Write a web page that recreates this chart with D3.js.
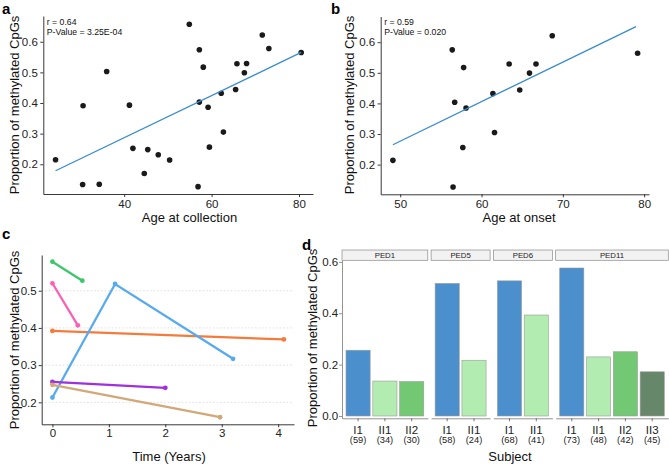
<!DOCTYPE html>
<html><head><meta charset="utf-8">
<script src="https://cdn.jsdelivr.net/npm/d3@7"></script>
<style>body{margin:0;background:#fff}svg{display:block;font-family:"Liberation Sans",Arial,sans-serif}</style>
</head><body><svg id="c" width="669" height="465"></svg>
<script>
// ---- Panel a data ----
const ageCollection = [54.9,57.2,58.1,36.0,71.6,73.1,80.5,65.8,68.0,67.5,65.5,62.2,57.2,59.2,30.6,41.2,24.3,30.5,34.3,42.0,45.4,47.8,44.6,50.4,62.7,59.5,56.9];
const methylA      = [0.657,0.574,0.517,0.503,0.622,0.578,0.565,0.528,0.529,0.499,0.444,0.432,0.403,0.386,0.391,0.393,0.215,0.134,0.135,0.252,0.248,0.231,0.170,0.214,0.305,0.256,0.127];
const fitAx = [24.3, 80.5], fitAy = [0.179, 0.565];
const statsA = ["r = 0.64", "P-Value = 3.25E-04"];
// ---- Panel b data ----
const ageOnset = [56.4,57.8,56.7,58.1,68.7,79.2,63.4,66.7,65.9,64.7,61.4,49.1,56.5,57.7,61.6];
const methylB  = [0.575,0.517,0.404,0.385,0.621,0.564,0.529,0.529,0.499,0.444,0.432,0.214,0.127,0.256,0.305];
const fitBx = [49.1, 79.0], fitBy = [0.265, 0.651];
const statsB = ["r = 0.59", "P-Value = 0.020"];
// ---- Panel c data ----
const seriesTimes  = [[0,0.53],[0,0.45],[0,4.1],[0,1.11,3.2],[0,2.0],[0,2.97]];
const seriesValues = [[0.578,0.527],[0.520,0.407],[0.392,0.369],[0.213,0.518,0.317],[0.255,0.239],[0.247,0.160]];
const yTicksC = [0.2,0.3,0.4,0.5], xTicksC = [0,1,2,3,4];
// ---- Panel d data ----
const families = ["PED1","PED5","PED6","PED11"];
const subjects = [["I1","II1","II2"],["I1","II1"],["I1","II1"],["I1","II1","II2","II3"]];
const ages     = [[59,34,30],[58,24],[68,41],[73,48,42,45]];
const props    = [[0.256,0.136,0.134],[0.516,0.217],[0.526,0.393],[0.576,0.230,0.250,0.172]];
const yTicksD = [0,0.2,0.4,0.6];

const svg = d3.select("#c");
const lineColors = ["#3ec66b","#fb60b4","#f47b3b","#56aaef","#a02fdc","#d3a878"];
const barColors = {"I1":"#4b8fcc","II1":"#b3ecb1","II2":"#73c873","II3":"#67876a"};
const tickCol = "#222";

function styleAxis(g, fs){
  g.selectAll("path.domain").attr("stroke","#222").attr("stroke-width",0.9);
  g.selectAll(".tick line").attr("stroke","#222").attr("stroke-width",0.9);
  g.selectAll(".tick text").attr("fill",tickCol).style("font-size",fs+"px").style("font-family","'Liberation Sans',Arial,sans-serif");
}
function panelLabel(t,x,y){ svg.append("text").attr("x",x).attr("y",y).text(t).style("font-weight","bold").style("font-size","15px").attr("fill","#000"); }
function yTitle(x,y){ svg.append("text").attr("transform",`translate(${x},${y}) rotate(-90)`).attr("text-anchor","middle").style("font-size","13px").attr("fill","#111").text("Proportion of methylated CpGs"); }
function xTitle(t,x,y){ svg.append("text").attr("x",x).attr("y",y).attr("text-anchor","middle").style("font-size","13px").attr("fill","#111").text(t); }

function scatter(opt){
  const x = d3.scaleLinear().domain(opt.xd).range([opt.x0,opt.x1]);
  const y = d3.scaleLinear().domain(opt.yd).range([opt.yb,opt.yt]);
  const gx = svg.append("g").attr("transform",`translate(0,${opt.yb})`).call(d3.axisBottom(x).tickValues(opt.xt).tickSize(3).tickSizeOuter(0).tickPadding(3));
  styleAxis(gx,11.5);
  const gy = svg.append("g").attr("transform",`translate(${opt.x0},0)`).call(d3.axisLeft(y).tickValues([0.2,0.3,0.4,0.5,0.6]).tickFormat(d3.format(".1f")).tickSize(3).tickSizeOuter(0).tickPadding(2.5));
  styleAxis(gy,11.5);
  svg.append("g").selectAll("circle").data(opt.xs).join("circle")
    .attr("cx",(d)=>x(d)).attr("cy",(d,i)=>y(opt.ys[i])).attr("r",2.8).attr("fill","#1a1a1a");
  svg.append("path").attr("d",d3.line()(opt.fx.map((d,i)=>[x(d),y(opt.fy[i])]))).attr("stroke","#3a8ccf").attr("stroke-width",1.3).attr("fill","none");
  opt.stats.forEach((s,i)=>svg.append("text").attr("x",opt.x0+3.5).attr("y",25+i*10).style("font-size","8.7px").attr("fill","#111").text(s));
}

// Panel a
scatter({x0:43.3,x1:313,yb:194,yt:16,xd:[21.5,83.2],yd:[0.103,0.684],xt:[40,60,80],xs:ageCollection,ys:methylA,fx:fitAx,fy:fitAy,stats:statsA});
panelLabel("a",2,13.5); yTitle(19,105); xTitle("Age at collection",189.5,221.5);
// Panel b
scatter({x0:380.7,x1:649,yb:194.3,yt:16.5,xd:[47.6,80.6],yd:[0.103,0.684],xt:[50,60,70,80],xs:ageOnset,ys:methylB,fx:fitBx,fy:fitBy,stats:statsB});
panelLabel("b",331,13.5); yTitle(354,105); xTitle("Age at onset",519,221.5);

// Panel c
(function(){
  const x0=41.7,x1=294,yb=424.3,yt=255;
  const x = d3.scaleLinear().domain([-0.19,4.28]).range([x0,x1]);
  const y = d3.scaleLinear().domain([0.141,0.596]).range([yb,yt]);
  svg.append("g").selectAll("line").data(yTicksC).join("line")
    .attr("x1",x0).attr("x2",x1).attr("y1",d=>y(d)).attr("y2",d=>y(d))
    .attr("stroke","#d6d6d6").attr("stroke-width",0.8).attr("stroke-dasharray","1.5,2");
  const gx = svg.append("g").attr("transform",`translate(0,${yb})`).call(d3.axisBottom(x).tickValues(xTicksC).tickFormat(d3.format("d")).tickSize(3).tickSizeOuter(0).tickPadding(1.2));
  styleAxis(gx,11.5);
  const gy = svg.append("g").attr("transform",`translate(${x0},0)`).call(d3.axisLeft(y).tickValues(yTicksC).tickFormat(d3.format(".1f")).tickSize(3).tickSizeOuter(0).tickPadding(2));
  styleAxis(gy,11.5);
  seriesTimes.forEach((ts,k)=>{
    const pts = ts.map((t,i)=>[x(t),y(seriesValues[k][i])]);
    svg.append("path").attr("d",d3.line()(pts)).attr("stroke",lineColors[k]).attr("stroke-width",2.3).attr("fill","none");
    svg.append("g").selectAll("circle").data(pts).join("circle").attr("cx",d=>d[0]).attr("cy",d=>d[1]).attr("r",2.4).attr("fill",lineColors[k]);
  });
  panelLabel("c",2,239); yTitle(19,340); xTitle("Time (Years)",169,461);
})();

// Panel d
(function(){
  const left=342, right=668.3, gap=3.3, yb=418.3, stripTop=250, stripBot=260.3;
  const units = subjects.map(s=>s.length+0.2);
  const totalU = d3.sum(units);
  const pxU = (right-left-gap*(families.length-1))/totalU;
  const y = d3.scaleLinear().domain([-0.009,0.606]).range([yb,stripBot]);
  const gy = svg.append("g").attr("transform",`translate(${left},0)`).call(d3.axisLeft(y).tickValues(yTicksD).tickFormat(d3.format(".1f")).tickSize(3).tickSizeOuter(0).tickPadding(0.8));
  styleAxis(gy,11.5);
  gy.selectAll("path.domain").attr("stroke","#888");
  gy.selectAll(".tick line").attr("stroke","#888");
  let cx = left;
  families.forEach((f,fi)=>{
    const w = units[fi]*pxU;
    const xb = d3.scaleBand().domain(subjects[fi]).range([cx,cx+w]).paddingInner(0.1).paddingOuter(0.15);
    svg.append("rect").attr("x",cx).attr("y",stripTop).attr("width",w).attr("height",stripBot-stripTop).attr("fill","#f2f2f2").attr("stroke","#8a8a8a").attr("stroke-width",0.7);
    svg.append("text").attr("x",cx+w/2).attr("y",stripBot-2.3).attr("text-anchor","middle").style("font-size","7.8px").attr("fill","#222").text(f);
    svg.append("g").selectAll("rect").data(subjects[fi]).join("rect")
      .attr("x",d=>xb(d)).attr("width",xb.bandwidth())
      .attr("y",(d,i)=>y(props[fi][i])).attr("height",(d,i)=>y(0)-y(props[fi][i]))
      .attr("fill",d=>barColors[d]).attr("stroke","#9a9a9a").attr("stroke-width",0.6);
    const gx = svg.append("g").attr("transform",`translate(0,${yb})`).call(d3.axisBottom(xb).tickSize(3).tickSizeOuter(0).tickFormat(""));
    gx.selectAll("path.domain").attr("stroke","#888").attr("stroke-width",0.9);
    gx.selectAll(".tick line").attr("stroke","#666").attr("stroke-width",0.9);
    subjects[fi].forEach((s,i)=>{
      const mx = xb(s)+xb.bandwidth()/2;
      svg.append("text").attr("x",mx).attr("y",433.5).attr("text-anchor","middle").style("font-size","11.5px").attr("fill","#222").text(s);
      svg.append("text").attr("x",mx).attr("y",442.5).attr("text-anchor","middle").style("font-size","9.3px").attr("fill","#222").text("("+ages[fi][i]+")");
    });
    cx += w + gap;
  });
  panelLabel("d",302,250); yTitle(317,338); xTitle("Subject",510,460.5);
})();
</script></body></html>
